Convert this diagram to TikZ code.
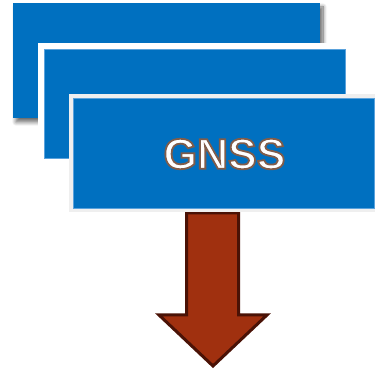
\documentclass[tikz,border=0pt]{standalone}
\usepackage{fontspec}
\setmainfont{Liberation Sans}
\usetikzlibrary{shadows.blur}
\definecolor{boxblue}{HTML}{0070C0}
\definecolor{edgeblue}{HTML}{5AA2DC}
\definecolor{arrowfill}{HTML}{A0300F}
\definecolor{arrowline}{HTML}{4A1206}
\definecolor{framegray}{HTML}{EFEFEF}
\newcommand{\outlinedtext}[1]{\special{pdf:literal direct 2 Tr 1.8 w 0.50 0.36 0.29 RG}#1\special{pdf:literal direct 0 Tr}}
\tikzset{
  gnsstext/.style={inner sep=0pt, font=\bfseries\fontsize{43}{43}\selectfont},
  bluebox/.style={fill=boxblue},
}
\begin{document}
\begin{tikzpicture}[x=1pt,y=-1pt]
\useasboundingbox (0,0) rectangle (375,371);
% back box with shadow
\path[bluebox, blur shadow={shadow xshift=3pt, shadow yshift=-4pt, shadow blur steps=10, shadow blur radius=4pt, shadow opacity=60}] (13,3) rectangle (320,118);
% middle box with white frame
\fill[white] (38,43) rectangle (350,163);
\fill[boxblue] (44,49) rectangle (345,158);
\draw[edgeblue, line width=0.7pt] (44,49) rectangle (345,158);
% arrow
\draw[arrowline, fill=arrowfill, line width=3pt, line join=miter]
  (186.5,213) -- (238.5,213) -- (238.5,315) -- (267,315) -- (213,366)
  -- (159,315) -- (186.5,315) -- cycle;
% front box with light frame
\fill[framegray] (69,94) rectangle (380,212);
\fill[boxblue] (73,98) rectangle (374,208);
\draw[edgeblue, line width=0.6pt] (73,98) rectangle (374,208);
% text
\node[gnsstext, text=white] (gnss) at (224.5,154) {\outlinedtext{GNSS}};
\end{tikzpicture}
\end{document}
